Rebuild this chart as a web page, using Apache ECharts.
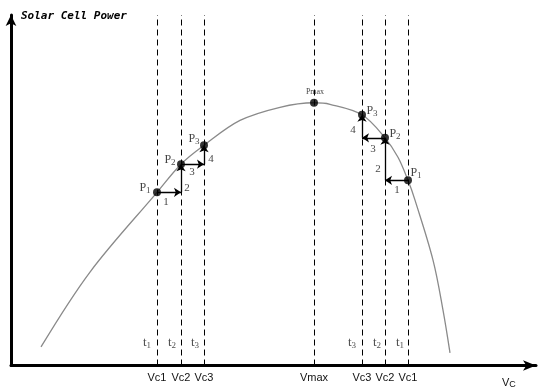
<!DOCTYPE html>
<html>
<head>
<meta charset="utf-8">
<script src="https://cdn.jsdelivr.net/npm/echarts@6/dist/echarts.min.js"></script>
<style>html,body{margin:0;padding:0;background:#fff}#c{width:543px;height:391px}</style>
</head>
<body>
<div id="c"></div>
<script>
// ---- data (x: cell voltage units, y: power units) ----
var curveX = [6, 15.8, 29.2, 34, 38.6, 45.8, 53.8, 60.6, 63.8, 70.2, 74.8, 77.4, 79.4, 80.8, 84.4, 86.4, 87.8];
var curveY = [6.2, 31.2, 57.8, 67.2, 73.5, 81.8, 86.2, 87.7, 87.2, 83.7, 76, 69.5, 61.8, 55.2, 35.2, 18.5, 4.2];

var vLineX = [29.2, 34, 38.6, 60.6, 70.2, 74.8, 79.4];
var vLineLabels = ['Vc1', 'Vc2', 'Vc3', 'Vmax', 'Vc3', 'Vc2', 'Vc1'];

var pointNames = ['P1', 'P2', 'P3', 'Pmax', 'P3', 'P2', 'P1'];
var pointX = [29.2, 34, 38.6, 60.6, 70.2, 74.8, 79.4];
var pointY = [57.8, 67.2, 73.5, 87.7, 83.7, 76, 61.8];
var pointLabelX = [26.8, 31.8, 36.6, 60.8, 72.2, 76.8, 81.0];
var pointLabelY = [59.2, 68.5, 75.5, 91.2, 84.8, 77.2, 64.2];

// step arrows: from -> to
var stepFromX = [29.2, 34, 34, 38.6, 79.4, 74.8, 74.8, 70.2];
var stepFromY = [57.8, 57.8, 67.2, 67.2, 61.8, 61.8, 76, 76];
var stepToX = [34, 34, 38.6, 38.6, 74.8, 74.8, 70.2, 70.2];
var stepToY = [57.8, 67.2, 67.2, 73.5, 61.8, 76, 76, 83.7];
var stepNames = ['1', '2', '3', '4', '1', '2', '3', '4'];
var stepLabelX = [31, 35.2, 36.2, 40, 77.2, 73.4, 72.4, 68.4];
var stepLabelY = [54.5, 59.2, 64.5, 68.8, 58.5, 65.5, 72.2, 78.5];

var tNames = ['t1', 't2', 't3', 't3', 't2', 't1'];
var tLabelX = [27.2, 32.2, 36.8, 68.2, 73.2, 77.8];
var tLabelY = [7.4, 7.4, 7.4, 7.4, 7.4, 7.4];

// ---- build ----
var SERIF = '"Liberation Serif", "DejaVu Serif", serif';
var SANS = '"Liberation Sans", Arial, sans-serif';

function sub(txt) {
  var m = txt.match(/^([A-Za-z])(\d)$/);
  if (m) return '{m|' + m[1] + '}{s|' + m[2] + '}';
  if (txt === 'Pmax') return '{x|Pmax}';
  return '{n|' + txt + '}';
}
var rich = {
  m: {fontFamily: SERIF, fontSize: 12, lineHeight: 13, verticalAlign: 'top', color: '#111'},
  s: {fontFamily: SERIF, fontSize: 9, lineHeight: 6, verticalAlign: 'bottom', color: '#111'},
  x: {fontFamily: SERIF, fontSize: 8, color: '#111'},
  n: {fontFamily: SERIF, fontSize: 11, color: '#111'}
};
function labelData(names, xs, ys) {
  return names.map(function (n, i) { return {name: n, value: [xs[i], ys[i]]}; });
}
var tRich = {
  m: {fontFamily: SERIF, fontSize: 13, lineHeight: 14, verticalAlign: 'top', color: '#222'},
  s: {fontFamily: SERIF, fontSize: 9, lineHeight: 6, verticalAlign: 'bottom', color: '#222'}
};

var arrows = stepFromX.map(function (x, i) {
  return {coords: [[x, stepFromY[i]], [stepToX[i], stepToY[i]]]};
});

var chart = echarts.init(document.getElementById('c'), null, {renderer: 'canvas'});
chart.setOption({
  animation: false,
  backgroundColor: '#fff',
  grid: {left: 11, right: 7, top: 15, bottom: 25.5},
  xAxis: {
    type: 'value', min: 0, max: 105,
    splitLine: {show: false},
    axisTick: {show: false},
    axisLine: {show: true, symbol: ['none', 'arrow'], symbolSize: [8, 13],
      lineStyle: {color: '#000', width: 3}},
    axisLabel: {
      show: true, customValues: vLineX, margin: 7,
      fontFamily: SANS, fontSize: 11, color: '#111',
      formatter: function (v) {
        var best = 0, d = 1e9;
        vLineX.forEach(function (x, i) { if (Math.abs(x - v) < d) { d = Math.abs(x - v); best = i; } });
        return vLineLabels[best];
      }
    }
  },
  yAxis: {
    type: 'value', min: 0, max: 117,
    splitLine: {show: false},
    axisTick: {show: false},
    axisLabel: {show: false},
    axisLine: {show: true, symbol: ['none', 'arrow'], symbolSize: [8, 11],
      lineStyle: {color: '#000', width: 3}}
  },
  graphic: [
    {type: 'text', left: 21, top: 11,
      style: {text: 'Solar Cell Power', font: 'italic bold 11px "DejaVu Sans Mono", "Liberation Mono", monospace', fill: '#000'}},
    {type: 'text', left: 502, top: 377,
      style: {text: '{v|V}{c|C}', rich: {
        v: {fontFamily: SANS, fontSize: 11, lineHeight: 12, verticalAlign: 'top', fill: '#111'},
        c: {fontFamily: SANS, fontSize: 9, lineHeight: 6, verticalAlign: 'bottom', fill: '#111'}}}}
  ],
  series: [
    {
      type: 'line', z: 2,
      data: curveX.map(function (x, i) { return [x, curveY[i]]; }),
      smooth: 0.35, showSymbol: false,
      lineStyle: {color: '#8a8a8a', width: 1.3},
      markLine: {
        silent: true, symbol: 'none', label: {show: false},
        lineStyle: {color: '#000', type: [6, 4], width: 1},
        data: vLineX.map(function (x) { return {xAxis: x}; })
      }
    },
    {
      type: 'lines', coordinateSystem: 'cartesian2d', z: 4,
      symbol: ['none', 'arrow'], symbolSize: 7,
      lineStyle: {color: '#000', width: 1.3, opacity: 1},
      data: arrows
    },
    {
      type: 'scatter', z: 5, symbolSize: 8,
      itemStyle: {color: '#000'},
      data: pointX.map(function (x, i) { return [x, pointY[i]]; })
    },
    {
      type: 'scatter', z: 6, symbolSize: 0,
      label: {show: true, position: 'inside', formatter: function (p) { return sub(p.name); }, rich: rich},
      data: labelData(pointNames, pointLabelX, pointLabelY)
    },
    {
      type: 'scatter', z: 6, symbolSize: 0,
      label: {show: true, position: 'inside', formatter: function (p) { return sub(p.name); }, rich: rich},
      data: labelData(stepNames, stepLabelX, stepLabelY)
    },
    {
      type: 'scatter', z: 6, symbolSize: 0,
      label: {show: true, position: 'inside', formatter: function (p) { return sub(p.name); }, rich: tRich},
      data: labelData(tNames, tLabelX, tLabelY)
    }
  ]
});
</script>
</body>
</html>
